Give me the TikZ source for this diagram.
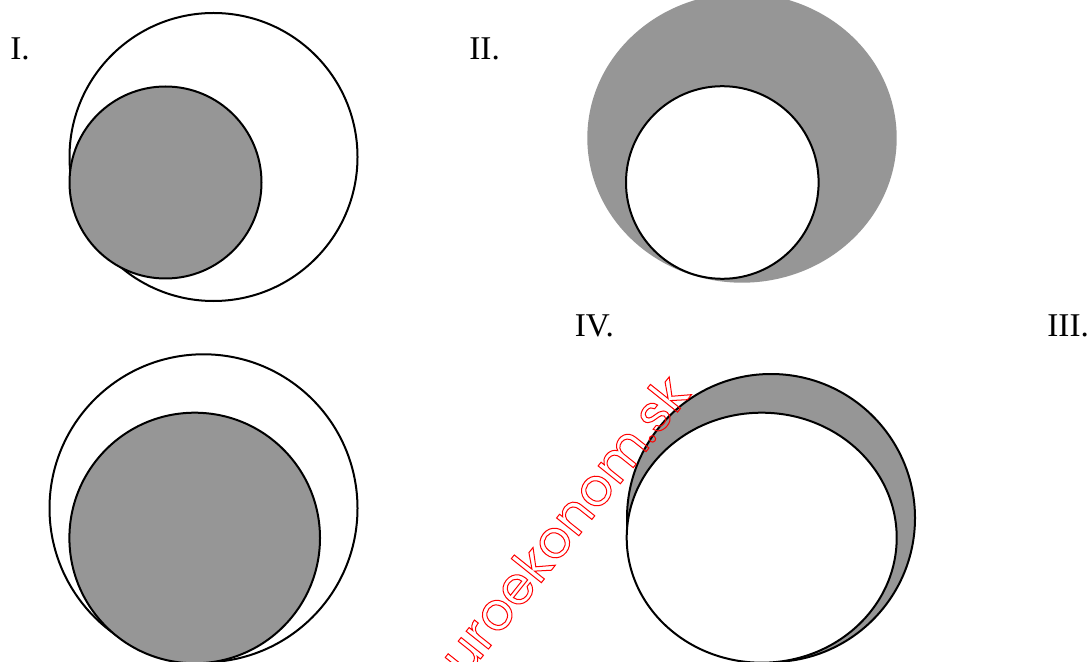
\documentclass[tikz,border=0pt]{standalone}
\usepackage{fontspec}
\setmainfont{Liberation Serif}
\newfontfamily\stampfont{Poppins}
\definecolor{cShade}{HTML}{969696}
\definecolor{cStamp}{HTML}{FF0000}
\newcommand{\outlined}[1]{\special{pdf:literal direct 1 Tr 0.5 w 1 0 0 RG}#1\special{pdf:literal direct 0 Tr}}

\begin{document}
\begin{tikzpicture}[
  x=0.5pt,y=-0.5pt,
  font=\fontsize{16.6}{20}\selectfont,
  rim/.style={draw,line width=1pt},
  shaded/.style={fill=cShade},
  blank/.style={fill=white},
  tag/.style={anchor=base west,inner sep=0pt},
  stamp/.style={font=\stampfont\fontsize{26}{30}\selectfont,text=cStamp,
                inner sep=0pt,rotate=51.4}
]
\useasboundingbox (0,0) rectangle (1090,662);

% I.
\draw[rim,blank] (213.5,157) circle[radius=144];
\draw[rim,shaded] (165.5,182.5) circle[radius=96];
\node[tag] (one) at (10,60) {I.};

% II.
\fill[cShade] (742,138) ellipse[x radius=154.7,y radius=144.7];
\draw[rim,blank] (722.3,182.5) circle[radius=96.3];
\node[tag] (two) at (469,60) {II.};

% lower left
\draw[rim,blank] (203.5,508.3) circle[radius=154];
\draw[rim,shaded] (194.7,538) circle[radius=125.3];

% lower right
\draw[rim,shaded] (771,518) circle[radius=144];
\draw[rim,blank] (761.7,537.7) ellipse[x radius=135,y radius=125];

\node[tag] (four) at (574.5,336) {IV.};
\node[tag] (three) at (1047,336) {III.};

\node[stamp,anchor=base east] (web) at (692,394) {\outlined{euroekonom.sk}};
\end{tikzpicture}
\end{document}
